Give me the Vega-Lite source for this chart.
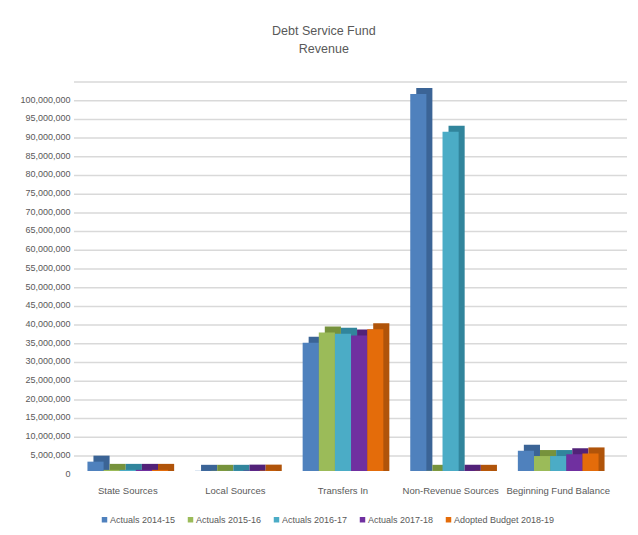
{
  "$schema": "https://vega.github.io/schema/vega-lite/v6.json",
  "autosize": {"type": "none"},
  "width": 538,
  "height": 374,
  "padding": {"left": 74, "top": 97, "right": 26, "bottom": 64},
  "background": "white",
  "config": {
    "view": {"stroke": null},
    "font": "Liberation Sans",
    "axis": {"labelFont": "Liberation Sans", "labelColor": "#595959"},
    "legend": {"labelFont": "Liberation Sans", "labelColor": "#595959"}
  },
  "title": {
    "text": ["Debt Service Fund", "Revenue"],
    "fontSize": 12.5,
    "fontWeight": "normal",
    "color": "#595959",
    "font": "Liberation Sans",
    "anchor": "middle",
    "frame": "bounds",
    "lineHeight": 18,
    "offset": 26
  },
  "datasets": {
    "grid": [
      {"v": 0}, {"v": 5000000}, {"v": 10000000}, {"v": 15000000}, {"v": 20000000},
      {"v": 25000000}, {"v": 30000000}, {"v": 35000000}, {"v": 40000000}, {"v": 45000000},
      {"v": 50000000}, {"v": 55000000}, {"v": 60000000}, {"v": 65000000}, {"v": 70000000},
      {"v": 75000000}, {"v": 80000000}, {"v": 85000000}, {"v": 90000000}, {"v": 95000000},
      {"v": 100000000}
    ],
    "bars": [
      {"category": "State Sources", "series": "Actuals 2014-15", "value": 2500000},
      {"category": "State Sources", "series": "Actuals 2015-16", "value": 300000},
      {"category": "State Sources", "series": "Actuals 2016-17", "value": 300000},
      {"category": "State Sources", "series": "Actuals 2017-18", "value": 300000},
      {"category": "State Sources", "series": "Adopted Budget 2018-19", "value": 300000},
      {"category": "Local Sources", "series": "Actuals 2014-15", "value": 50000},
      {"category": "Local Sources", "series": "Actuals 2015-16", "value": 50000},
      {"category": "Local Sources", "series": "Actuals 2016-17", "value": 50000},
      {"category": "Local Sources", "series": "Actuals 2017-18", "value": 100000},
      {"category": "Local Sources", "series": "Adopted Budget 2018-19", "value": 100000},
      {"category": "Transfers In", "series": "Actuals 2014-15", "value": 34300000},
      {"category": "Transfers In", "series": "Actuals 2015-16", "value": 37000000},
      {"category": "Transfers In", "series": "Actuals 2016-17", "value": 36700000},
      {"category": "Transfers In", "series": "Actuals 2017-18", "value": 36200000},
      {"category": "Transfers In", "series": "Adopted Budget 2018-19", "value": 37900000},
      {"category": "Non-Revenue Sources", "series": "Actuals 2014-15", "value": 100800000},
      {"category": "Non-Revenue Sources", "series": "Actuals 2015-16", "value": 50000},
      {"category": "Non-Revenue Sources", "series": "Actuals 2016-17", "value": 90700000},
      {"category": "Non-Revenue Sources", "series": "Actuals 2017-18", "value": 100000},
      {"category": "Non-Revenue Sources", "series": "Adopted Budget 2018-19", "value": 50000},
      {"category": "Beginning Fund Balance", "series": "Actuals 2014-15", "value": 5400000},
      {"category": "Beginning Fund Balance", "series": "Actuals 2015-16", "value": 4000000},
      {"category": "Beginning Fund Balance", "series": "Actuals 2016-17", "value": 4000000},
      {"category": "Beginning Fund Balance", "series": "Actuals 2017-18", "value": 4500000},
      {"category": "Beginning Fund Balance", "series": "Adopted Budget 2018-19", "value": 4700000}
    ]
  },
  "resolve": {"scale": {"color": "independent", "xOffset": "independent"}, "legend": {"color": "independent"}},
  "layer": [
    {
      "data": {"name": "grid"},
      "mark": {"type": "rule", "color": "#D9D9D9", "strokeWidth": 1.5, "xOffset": 15, "x2Offset": 21, "yOffset": -15},
      "encoding": {
        "y": {
          "field": "v", "type": "quantitative", "title": null, "scale": {"domain": [0, 100000000], "nice": false},
          "axis": {"format": ",d", "values": [0, 5000000, 10000000, 15000000, 20000000, 25000000, 30000000, 35000000, 40000000, 45000000, 50000000, 55000000, 60000000, 65000000, 70000000, 75000000, 80000000, 85000000, 90000000, 95000000, 100000000], "labelOverlap": false, "labelSeparation": 0, "domain": false, "ticks": false, "grid": false, "labelFontSize": 9, "labelPadding": 4, "labelOffset": 2}
        }
      }
    },
    {
      "data": {"name": "bars"},
      "mark": {"type": "bar", "yOffset": -6, "y2Offset": 0.01},
      "encoding": {
        "x": {"field": "category", "type": "nominal", "sort": null, "title": null, "scale": {"paddingInner": 0.25, "paddingOuter": 0.125}},
        "xOffset": {"field": "series", "type": "nominal", "sort": null, "scale": {"range": [6, 86.7]}},
        "y": {
          "field": "value", "type": "quantitative", "title": null,
          "axis": {"format": ",d", "values": [0, 5000000, 10000000, 15000000, 20000000, 25000000, 30000000, 35000000, 40000000, 45000000, 50000000, 55000000, 60000000, 65000000, 70000000, 75000000, 80000000, 85000000, 90000000, 95000000, 100000000], "labelOverlap": false, "labelSeparation": 0, "domain": false, "ticks": false, "grid": false, "labelFontSize": 9, "labelPadding": 4, "labelOffset": 2}
        },
        "y2": {"datum": 0},
        "color": {
          "field": "series", "type": "nominal", "sort": null, "legend": null,
          "scale": {"range": ["#3B6496", "#76923C", "#31859C", "#522278", "#B0540A"]}
        }
      }
    },
    {
      "data": {"name": "bars"},
      "mark": {"type": "bar"},
      "encoding": {
        "x": {
          "field": "category", "type": "nominal", "sort": null, "title": null,
          "axis": {"labelAngle": 0, "labelAlign": "center", "labelBaseline": "top", "domain": false, "ticks": false, "labelFontSize": 9.5, "labelPadding": 14}
        },
        "xOffset": {"field": "series", "type": "nominal", "sort": null},
        "y": {
          "field": "value", "type": "quantitative", "title": null,
          "axis": {"format": ",d", "values": [0, 5000000, 10000000, 15000000, 20000000, 25000000, 30000000, 35000000, 40000000, 45000000, 50000000, 55000000, 60000000, 65000000, 70000000, 75000000, 80000000, 85000000, 90000000, 95000000, 100000000], "labelOverlap": false, "labelSeparation": 0, "domain": false, "ticks": false, "grid": false, "labelFontSize": 9, "labelPadding": 4, "labelOffset": 2}
        },
        "color": {
          "field": "series", "type": "nominal", "sort": null,
          "scale": {"range": ["#4F81BD", "#9BBB59", "#4BACC6", "#7030A0", "#E46C0A"]},
          "legend": {"title": null, "orient": "none", "legendX": 26, "legendY": 418, "direction": "horizontal", "symbolType": "square", "symbolSize": 30, "labelFontSize": 9, "columnPadding": 10, "labelOffset": 1}
        }
      }
    }
  ]
}
